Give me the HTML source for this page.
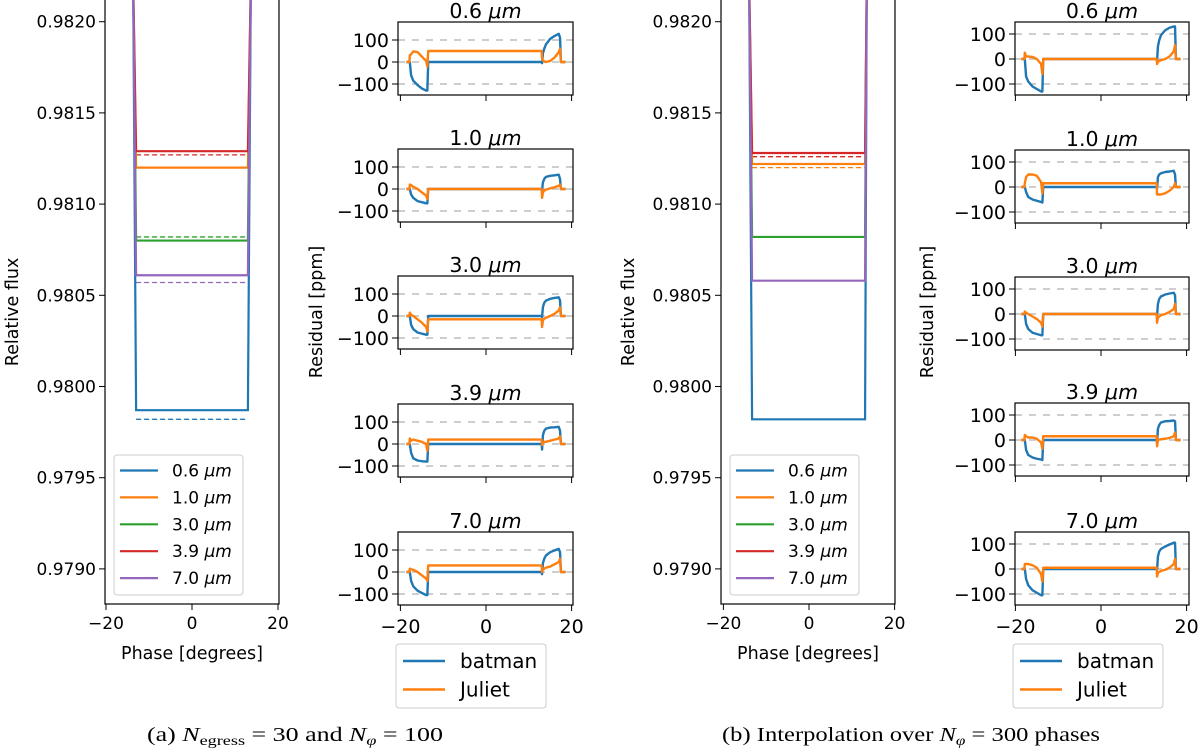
<!DOCTYPE html>
<html><head><meta charset="utf-8"><style>
body{margin:0;background:#fff}
svg{display:block;font-family:"DejaVu Sans","Liberation Sans",sans-serif}
</style></head><body>
<svg id="fig" width="1200" height="754" viewBox="0 0 1200 754" xmlns="http://www.w3.org/2000/svg">
<text x="147" y="741" font-family="Liberation Serif, serif" font-size="20" textLength="296" lengthAdjust="spacingAndGlyphs">(a) <tspan font-style="italic">N</tspan><tspan font-size="14" dy="4">egress</tspan><tspan dy="-4"> = 30 and </tspan><tspan font-style="italic">N</tspan><tspan font-size="14" dy="4" font-style="italic">φ</tspan><tspan dy="-4"> = 100</tspan></text>
<text x="722" y="741" font-family="Liberation Serif, serif" font-size="20" textLength="378" lengthAdjust="spacingAndGlyphs">(b) Interpolation over <tspan font-style="italic">N</tspan><tspan font-size="14" dy="4" font-style="italic">φ</tspan><tspan dy="-4"> = 300 phases</tspan></text>
</svg>
<script>
const wavelengths = ["0.6","1.0","3.0","3.9","7.0"];
const colors = ["#1f77b4","#ff7f0e","#2ca02c","#d62728","#9467bd"];
const depthA = [0.97987,0.98120,0.98080,0.98129,0.98061];
const dashA = [0.97982,0.98120,0.98082,0.98127,0.98057];
const depthB = [0.97982,0.98122,0.98082,0.98128,0.98058];
const dashB = [0.97982,0.98120,0.98082,0.98126,0.98058];
const edgeA = [-13.7,-13.0,13.0,13.7];
const edgeB = [-14.0,-13.3,13.1,13.5];
const fluxTicks = [0.9790,0.9795,0.9800,0.9805,0.9810,0.9815,0.9820];
const phaseTicks = [-20,0,20];
const resTicks = [-100,0,100];
const resPhase = [-18.6,-17.9,-17.8,-17.5,-17,-16,-15,-14,-13.7,-13.5,13.0,13.1,13.3,13.6,14,15,16,17,17.3,17.5,18.6];
const batmanA = [
 [0,0,0,-60,-85,-105,-120,-130,-130,0, 0,-5,40,60,80,105,118,128,110,0,0],
 [0,0,0,-25,-40,-55,-60,-65,-65,0, 0,-5,30,45,55,60,62,65,45,0,0],
 [0,0,0,-40,-60,-75,-80,-85,-85,0, 0,-5,40,60,70,78,82,85,70,0,0],
 [0,0,0,-40,-65,-75,-78,-80,-80,0, 0,-25,40,60,70,75,76,78,60,0,0],
 [0,0,0,-40,-65,-85,-95,-105,-105,0, 0,-10,40,60,75,90,98,105,90,0,0]];
const julietA = [
 [0,0,30,35,48,45,25,5,-20,50, 50,15,8,3,0,5,20,45,60,0,0],
 [0,0,20,18,10,0,-15,-30,-45,0, 0,-40,-15,-8,-3,3,8,15,20,0,0],
 [0,0,15,5,0,-15,-30,-50,-70,-15, -15,-50,-20,-12,-8,0,10,25,40,0,0],
 [0,0,25,15,20,15,10,0,-30,20, 20,-5,5,10,10,15,20,25,35,0,0],
 [0,0,15,12,10,0,-15,-30,-40,30, 30,0,10,15,20,25,35,45,60,0,0]];
const batmanB = [
 [0,0,0,-70,-90,-110,-120,-130,-130,0, 0,-5,50,75,95,115,125,130,130,0,0],
 [0,0,0,-20,-40,-50,-55,-60,-62,0, 0,-5,40,50,55,60,62,65,50,0,0],
 [0,0,0,-40,-60,-75,-80,-85,-85,0, 0,-5,40,60,70,78,82,85,75,0,0],
 [0,0,0,-40,-60,-70,-75,-78,-80,0, 0,-10,45,60,70,75,76,78,75,0,0],
 [0,0,0,-40,-65,-85,-95,-105,-105,0, 0,-5,50,70,80,90,98,105,105,0,0]];
const julietB = [
 [0,0,25,10,10,8,0,-20,-60,0, 0,-20,-10,-8,-5,0,10,30,55,0,0],
 [0,0,15,40,50,50,45,20,-25,15, 15,-30,-30,-30,-30,-25,-15,0,15,0,0],
 [0,0,10,5,0,-10,-20,-35,-50,0, 0,-35,-15,-10,-5,0,8,20,40,0,0],
 [0,0,20,15,10,10,5,-10,-35,15, 15,-25,0,2,3,5,8,15,30,0,0],
 [0,0,20,20,20,15,5,-20,-50,5, 5,-30,-15,-12,-8,-3,5,20,40,0,0]];

const NS="http://www.w3.org/2000/svg";
const svg=document.getElementById('fig');
function mk(tag,attrs,parent){const e=document.createElementNS(NS,tag);for(const k in attrs)e.setAttribute(k,attrs[k]);(parent||svg).appendChild(e);return e;}
let clipN=0;
const TICK=17, RTICK=19, TITLE=17.5;

function mainPanel(tag,x0,x1,xZero,xScale,depth,dash,edge){
  const y0=0,y1=604;
  const fy=f=>21.7+(0.9820-f)/0.0005*91.2;
  const fx=p=>xZero+p*xScale;
  const g=mk('g',{});
  
  
  const cid='c'+(clipN++);
  const cp=mk('clipPath',{id:cid},g);mk('rect',{x:x0,y:y0,width:x1-x0,height:y1-y0},cp);
  const lines=mk('g',{'clip-path':'url(#'+cid+')'},g);
  for(let i=0;i<wavelengths.length;i++){
    const d=mk('line',{x1:fx(edge[1]),x2:fx(edge[2]),y1:fy(dash[i]),y2:fy(dash[i]),stroke:colors[i],'stroke-width':1.3,'stroke-dasharray':'5,3'},lines);
    
    
  }
  for(let i=0;i<wavelengths.length;i++){
    const pts=[[-20.5,1],[edge[0],0.98225],[edge[1],depth[i]],[edge[2],depth[i]],[edge[3],0.98225],[20.5,1]];
    const l=mk('polyline',{points:pts.map(p=>fx(p[0])+','+fy(p[1])).join(' '),fill:'none',stroke:colors[i],'stroke-width':2.2},lines);
    
    
  }
  mk('rect',{x:x0,y:y0-2,width:x1-x0,height:y1-y0+2,fill:'none',stroke:'#000','stroke-width':1.2},g);
  fluxTicks.forEach(t=>{
    mk('line',{x1:x0-6,x2:x0,y1:fy(t),y2:fy(t),stroke:'#000'},g);
    const tx=mk('text',{x:x0-9,y:fy(t)+6,'text-anchor':'end','font-size':TICK},g);
    tx.textContent=t.toFixed(4);
    
    
  });
  phaseTicks.forEach(t=>{
    mk('line',{x1:fx(t),x2:fx(t),y1:y1,y2:y1+6,stroke:'#000'},g);
    const tx=mk('text',{x:fx(t),y:y1+25,'text-anchor':'middle','font-size':TICK},g);
    tx.textContent=t<0?'\u2212'+(-t):String(t);
    
    
  });
  const xl=mk('text',{x:(x0+x1)/2,y:y1+55,'text-anchor':'middle','font-size':TITLE},g);
  xl.textContent='Phase [degrees]';
  
  
  const yl=mk('text',{x:0,y:0,'text-anchor':'middle','font-size':TITLE,transform:`translate(${x0-87},312) rotate(-90)`},g);
  yl.textContent='Relative flux';
  
  
  const lg=mk('g',{},g);
  
  
  mk('rect',{x:x0+9,y:455,width:129,height:140,rx:3,fill:'#fff',stroke:'#ccc'},lg);
  wavelengths.forEach((w,i)=>{
    const yy=470.5+i*26.9;
    mk('line',{x1:x0+15,x2:x0+53,y1:yy,y2:yy,stroke:colors[i],'stroke-width':2.2},lg);
    const t=mk('text',{x:x0+67,y:yy+6,'font-size':TICK},lg);
    t.innerHTML=w+' <tspan font-style="italic">μm</tspan>';
    
    
  });
}

function resPanels(tag,x0,x1,xZero,xScale,tops,zeroOff,pxPer100,bat,jul,ylabX){
  const fx=p=>xZero+p*xScale;
  for(let k=0;k<wavelengths.length;k++){
    const top=tops[k],h=73,bot=top+h;
    const fy=v=>top+zeroOff-v/100*pxPer100;
    const g=mk('g',{});
    
    
    const cid='c'+(clipN++);
    const cp=mk('clipPath',{id:cid},g);mk('rect',{x:x0,y:top,width:x1-x0,height:h},cp);
    const inner=mk('g',{'clip-path':'url(#'+cid+')'},g);
    resTicks.forEach(t=>mk('line',{x1:x0,x2:x1,y1:fy(t),y2:fy(t),stroke:'#b0b0b0','stroke-width':1.2,'stroke-dasharray':'7,7'},inner));
    [[bat[k],colors[0],'batman'],[jul[k],colors[1],'juliet']].forEach(s=>{
      const pts=resPhase.map((p,i)=>fx(p)+','+fy(s[0][i])).join(' ');
      const l=mk('polyline',{points:pts,fill:'none',stroke:s[1],'stroke-width':2.4,'stroke-linejoin':'round'},inner);
      
      
    });
    mk('rect',{x:x0,y:top,width:x1-x0,height:h,fill:'none',stroke:'#000','stroke-width':1.2},g);
    resTicks.forEach(t=>{
      mk('line',{x1:x0-6,x2:x0,y1:fy(t),y2:fy(t),stroke:'#000'},g);
      const tx=mk('text',{x:x0-9,y:fy(t)+7,'text-anchor':'end','font-size':RTICK},g);
      tx.textContent=t<0?'\u2212'+(-t):String(t);
      
      
    });
    phaseTicks.forEach(t=>{
      mk('line',{x1:fx(t),x2:fx(t),y1:bot,y2:bot+6,stroke:'#000'},g);
      if(k===wavelengths.length-1){
        const tx=mk('text',{x:fx(t),y:bot+28,'text-anchor':'middle','font-size':RTICK},g);
        tx.textContent=t<0?'\u2212'+(-t):String(t);
        
        
      }
    });
    const ti=mk('text',{x:(x0+x1)/2,y:top-4,'text-anchor':'middle','font-size':20.5},g);
    ti.innerHTML=wavelengths[k]+' <tspan font-style="italic">μm</tspan>';
    
    
  }
  const yl=mk('text',{x:0,y:0,'text-anchor':'middle','font-size':TITLE,transform:`translate(${ylabX},312) rotate(-90)`});
  yl.textContent='Residual [ppm]';
  
  
  const lg=mk('g',{});
  
  
  mk('rect',{x:x0-2,y:644,width:150,height:64,rx:3,fill:'#fff',stroke:'#ccc'},lg);
  [['batman',colors[0]],['Juliet',colors[1]]].forEach((e,i)=>{
    const yy=661+i*28.5;
    mk('line',{x1:x0+5,x2:x0+47,y1:yy,y2:yy,stroke:e[1],'stroke-width':2.4},lg);
    const t=mk('text',{x:x0+62,y:yy+7,'font-size':20},lg);
    t.textContent=e[0];
    
    
  });
}

mainPanel('a',105,279,192,4.3,depthA,dashA,edgeA);
mainPanel('b',721,895,809,4.28,depthB,dashB,edgeB);
resPanels('a',398,573,486,4.28,[22,149,276,404,532],40,22,batmanA,julietA,322);
resPanels('b',1015,1189,1101,4.28,[22,150,277,403,532],37,25,batmanB,julietB,933);
</script>
</body></html>
